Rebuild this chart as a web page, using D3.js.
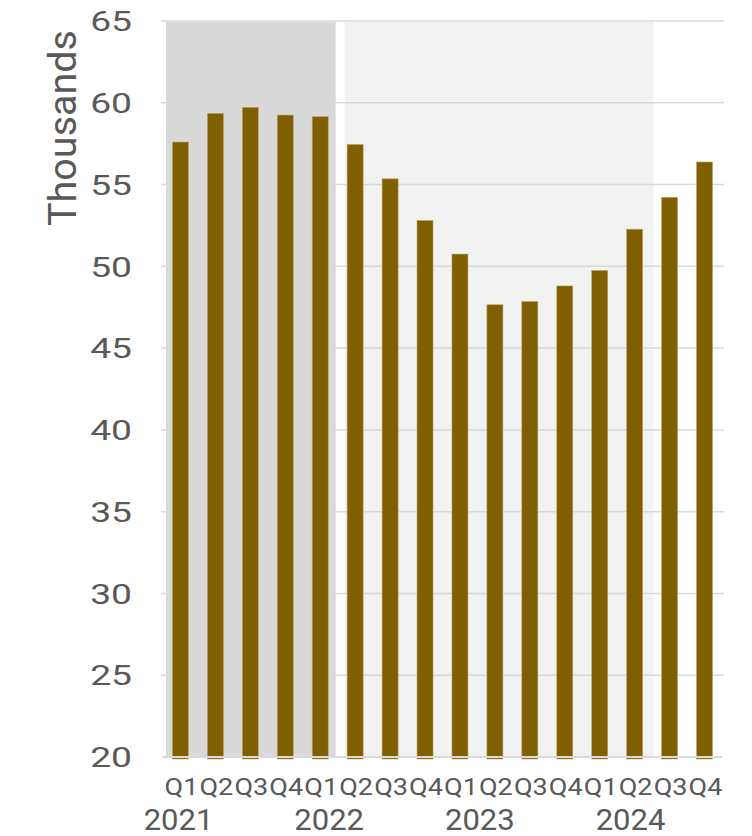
<!DOCTYPE html>
<html>
<head>
<meta charset="utf-8">
<script src="https://cdn.jsdelivr.net/npm/d3@7"></script>
<style>
  html, body { margin: 0; padding: 0; background: #ffffff; }
  svg { display: block; }
  text { font-family: Roboto, "DejaVu Sans", sans-serif; fill: #595959; }
</style>
</head>
<body>
<div id="chart"></div>
<script>
// Quarterly series, 2021–2024 (thousands)
const years = ["2021", "2022", "2023", "2024"];
const quarters = ["Q1", "Q2", "Q3", "Q4"];
const values = [
  57.6, 59.35, 59.72, 59.25,
  59.15, 57.45, 55.35, 52.8,
  50.75, 47.65, 47.85, 48.8,
  49.75, 52.27, 54.22, 56.38
];
const yTicks = [20, 25, 30, 35, 40, 45, 50, 55, 60, 65];
const yTitle = "Thousands";
// Shaded periods, as indexes into the quarter sequence (inclusive)
const periodStart = [0, 5];
const periodEnd = [4, 13];

// Category keys: one per quarter
const keys = [];
years.forEach(y => quarters.forEach(q => keys.push(q + " " + y)));

const W = 752, H = 836;
const plot = { left: 163, right: 722, top: 21, bottom: 757 };
const shadeFill = ["#d9d9d9", "#f2f2f2"];
const shadeInset = [[3, 2], [7, -1.5]];

const svg = d3.select("#chart").append("svg")
  .attr("width", W).attr("height", H);

const x = d3.scaleBand()
  .domain(keys)
  .range([plot.left, plot.right])
  .paddingInner(0.542)
  .paddingOuter(0.271);

const y = d3.scaleLinear()
  .domain([20, 65])
  .range([plot.bottom, plot.top]);

// Background shading for the two periods
const step = x.step();
const bandStart = i => plot.left + i * step;
svg.append("g").selectAll("rect")
  .data(periodStart.map((s, i) => ({ s, e: periodEnd[i], i })))
  .join("rect")
  .attr("x", d => bandStart(d.s) + shadeInset[d.i][0])
  .attr("width", d => bandStart(d.e + 1) - shadeInset[d.i][1] - (bandStart(d.s) + shadeInset[d.i][0]))
  .attr("y", y(65) + 1)
  .attr("height", y(20) - y(65) - 1)
  .attr("fill", d => shadeFill[d.i]);

// Horizontal gridlines
svg.append("g").selectAll("line")
  .data(yTicks.filter(t => t > 20))
  .join("line")
  .attr("x1", plot.left - 2).attr("x2", plot.right + 2)
  .attr("y1", d => y(d)).attr("y2", d => y(d))
  .attr("stroke", "#d9d9d9")
  .attr("stroke-width", 1.5);

// Bars
svg.append("g").selectAll("rect")
  .data(values.map((v, i) => ({ k: keys[i], v })))
  .join("rect")
  .attr("x", d => x(d.k))
  .attr("width", x.bandwidth())
  .attr("y", d => y(d.v))
  .attr("height", d => y(20) - y(d.v) + 2)
  .attr("fill", "#7f5f00")
  .attr("stroke", "#b9a467")
  .attr("stroke-width", 0.6);

// Category axis line
svg.append("line")
  .attr("x1", plot.left - 1).attr("x2", plot.right)
  .attr("y1", y(20)).attr("y2", y(20))
  .attr("stroke", "#d9d9d9")
  .attr("stroke-width", 2);

// Y tick labels
const yAxis = d3.axisLeft(y).tickValues(yTicks).tickSize(0).tickPadding(0);
const gy = svg.append("g").call(yAxis);
gy.select(".domain").remove();
gy.selectAll(".tick text")
  .attr("x", 0)
  .attr("dy", null)
  .attr("y", 10.2)
  .attr("transform", "translate(132,0) scale(1.33,1)")
  .style("font-size", "28px")
  .style("font-family", "Roboto, 'DejaVu Sans', sans-serif")
  .attr("fill", "#595959");
gy.selectAll(".tick").attr("transform", d => `translate(0,${y(d)})`);

// Y title
svg.append("text")
  .attr("transform", "translate(76,30) rotate(-90)")
  .attr("text-anchor", "end")
  .style("font-size", "39.5px")
  .text(yTitle);

// Quarter labels
svg.append("g").selectAll("text")
  .data(keys)
  .join("text")
  .attr("transform", d => `translate(${x(d) + x.bandwidth() / 2 + 1},795) scale(1.13,1)`)
  .attr("text-anchor", "middle")
  .style("font-size", "24px")
  .text(d => d.split(" ")[0]);

// Year labels
const yearX = d3.scaleLinear().domain([0, years.length - 1]).range([178.5, 630.5]);
svg.append("g").selectAll("text")
  .data(years)
  .join("text")
  .attr("transform", (d, i) => `translate(${yearX(i)},830) scale(1.07,1)`)
  .attr("text-anchor", "middle")
  .style("font-size", "29px")
  .text(d => d);
</script>
</body>
</html>
